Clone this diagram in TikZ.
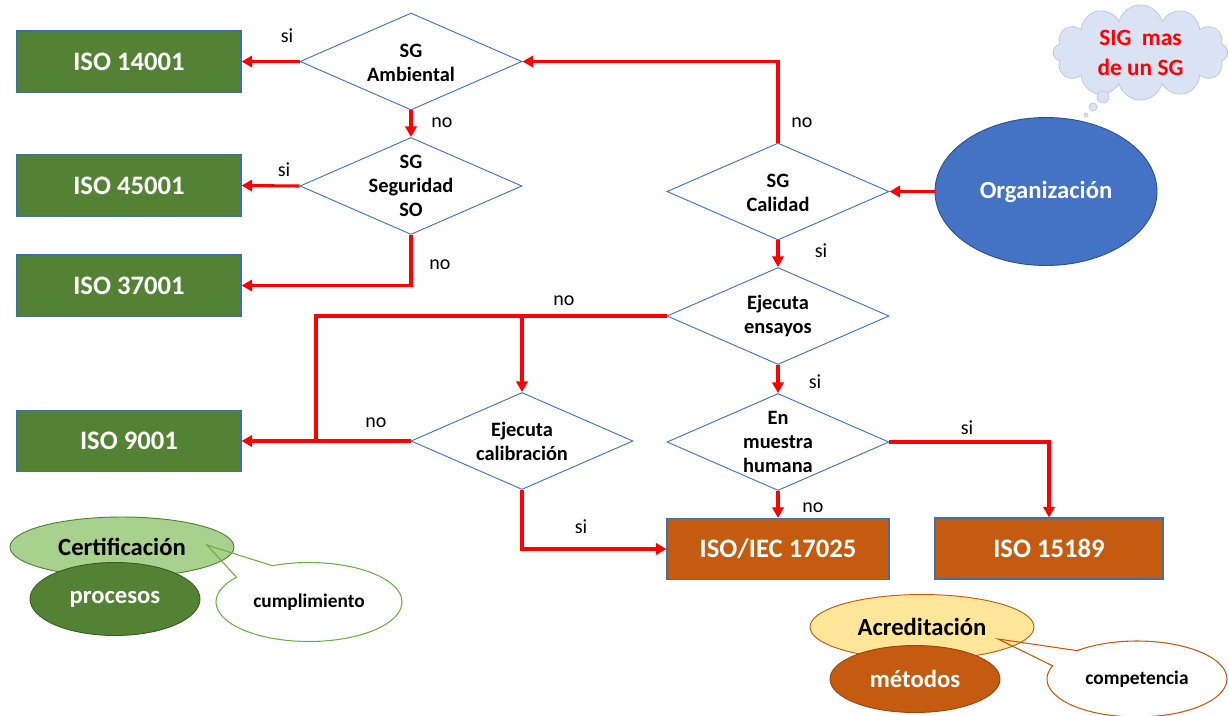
\documentclass[tikz,border=0pt]{standalone}
\usepackage{fontspec}
\setmainfont{Carlito}
\usetikzlibrary{shapes.geometric,shapes.symbols,shapes.callouts,arrows.meta}
\definecolor{isogreen}{HTML}{548235}
\definecolor{isoorange}{HTML}{C55A11}
\definecolor{boxblue}{HTML}{41719C}
\definecolor{dblue}{HTML}{4472C4}
\definecolor{orgblue}{HTML}{4472C4}
\definecolor{orgedge}{HTML}{2F528F}
\definecolor{lgreen}{HTML}{A9D18E}
\definecolor{dgreenedge}{HTML}{3B5E24}
\definecolor{cgreen}{HTML}{70AD47}
\definecolor{lyellow}{HTML}{FFE699}
\definecolor{dorangeedge}{HTML}{9E470D}
\definecolor{cloudblue}{HTML}{DAE3F3}
\definecolor{cloudedge}{HTML}{B4C7E7}
\begin{document}
\begin{tikzpicture}[x=0.75pt,y=-0.75pt,
  isobox/.style={draw=boxblue,line width=0.8pt,minimum height=45.75pt,inner sep=0pt,
    text=white,font=\fontsize{20}{24}\selectfont\bfseries},
  greenbox/.style={isobox,fill=isogreen,minimum width=168pt},
  orangebox/.style={isobox,fill=isoorange},
  decision/.style={diamond,draw=dblue,line width=0.7pt,fill=white,
    minimum width=166.5pt,minimum height=72.75pt,inner sep=0pt},
  dtext/.style={align=center,font=\fontsize{15.3}{18}\selectfont\bfseries,inner sep=0pt},
  flow/.style={draw=red,line width=2.3pt,-{Triangle[length=8pt,width=8.5pt]}},
  flowline/.style={draw=red,line width=2.3pt},
  lbl/.style={font=\fontsize{15}{17}\selectfont,inner sep=0pt},
  bigtext/.style={font=\fontsize{18.5}{22}\selectfont\bfseries},
  smalltext/.style={font=\fontsize{14.5}{17}\selectfont\bfseries},
]
\useasboundingbox (0,0) rectangle (1229,715);

% ISO boxes
\node[greenbox] (i14) at (129,61.5) {ISO 14001};
\node[greenbox] (i45) at (129,185.5) {ISO 45001};
\node[greenbox] (i37) at (129,285.5) {ISO 37001};
\node[greenbox] (i9) at (129,441) {ISO 9001};
\node[orangebox,minimum width=166.5pt] (i17) at (778,549) {ISO/IEC 17025};
\node[orangebox,minimum width=171pt] (i15) at (1049,548.5) {ISO 15189};

% decisions
\node[decision] (amb) at (411,61.5) {};
\node[dtext] (ambt) at ([yshift=-1pt]amb.center) {SG\\Ambiental};
\node[decision] (seg) at (411,186) {};
\node[dtext] (segt) at (seg.center) {SG\\Seguridad\\SO};
\node[decision] (cal) at (778,191.5) {};
\node[dtext] (calt) at ([yshift=-1pt]cal.center) {SG\\Calidad};
\node[decision] (ens) at (778,316) {};
\node[dtext] (enst) at (ens.center) {Ejecuta\\ensayos};
\node[decision] (mue) at (778,442) {};
\node[dtext] (muet) at (mue.center) {En\\muestra\\humana};
\node[decision] (calib) at (522,441) {};
\node[dtext] (calibt) at (calib.center) {Ejecuta\\calibración};

% organization
\node[ellipse,fill=orgblue,draw=orgedge,line width=0.7pt,minimum width=166.5pt,
  minimum height=111pt,text=white,bigtext] (org) at (1046,191.5) {Organización};

% cloud
\node[cloud,cloud puffs=12,aspect=2.6,fill=cloudblue,draw=cloudedge,line width=0.5pt,
  minimum width=131pt,minimum height=52pt,inner sep=0pt,align=center,text=red,
  font=\fontsize{17.5}{22.5}\selectfont\bfseries] (sig) at (1140.5,52.5) {SIG\ \ mas\\de un SG};
\path[draw=cloudedge,fill=cloudblue,line width=0.5pt] (1103,97) circle[radius=6];
\path[draw=cloudedge,fill=cloudblue,line width=0.5pt] (1093,107) circle[radius=4];
\path[draw=cloudedge,fill=cloudblue,line width=0.5pt] (1086,115) circle[radius=2];

% connectors
\draw[flow] (org.west) -- (cal.east);
\draw[flow] (cal.north) |- (amb.east);
\draw[flow] (amb.west) -- (i14.east);
\draw[flow] (amb.south) -- (seg.north);
\draw[flow] (seg.west) -- (i45.east);
\draw[flow] (seg.south) |- (i37.east);
\draw[flow] (cal.south) -- (ens.north);
\draw[flow] (ens.south) -- (mue.north);
\draw[flow] (mue.south) -- (i17.north);
\draw[flow] (mue.east) -| (i15.north);
\coordinate (j1) at (316,316);
\coordinate (j2) at (316,441);
\draw[flowline] (ens.west) -- (j1) -- (j2);
\draw[flow] (calib.north |- ens.west) -- (calib.north);
\draw[flow] (calib.west) -- (i9.east);
\draw[flow] (calib.south) |- (i17.west);

% labels
\node[lbl] (l1) at (287,36) {si};
\node[lbl] (l2) at (284,170) {si};
\node[lbl] (l3) at (442,123) {no};
\node[lbl] (l4) at (440,265) {no};
\node[lbl] (l5) at (802,123) {no};
\node[lbl] (l6) at (821,251) {si};
\node[lbl] (l7) at (564,301) {no};
\node[lbl] (l8) at (815,382) {si};
\node[lbl] (l9) at (967,428) {si};
\node[lbl] (l10) at (813,508) {no};
\node[lbl] (l11) at (376,423) {no};
\node[lbl] (l12) at (581,527) {si};

% certification legend
\node[ellipse,fill=lgreen,draw=isogreen,line width=0.7pt,minimum width=168pt,
  minimum height=45pt,bigtext] (cert) at (122,547) {Certificación};
\node[ellipse,fill=isogreen,draw=dgreenedge,line width=0.7pt,minimum width=127.5pt,
  minimum height=54.75pt,text=white,bigtext] (proc) at (115,599) {procesos};
\node[ellipse callout,draw=cgreen,line width=0.8pt,minimum width=139.5pt,
  minimum height=59.25pt,callout absolute pointer={(207,545)},callout pointer arc=28,
  smalltext] (cump) at (309,602) {cumplimiento};

% accreditation legend
\node[ellipse,fill=lyellow,draw=isoorange,line width=0.7pt,minimum width=168pt,
  minimum height=48.75pt,bigtext] (acre) at (922,627) {Acreditación};
\node[ellipse,fill=isoorange,draw=dorangeedge,line width=0.7pt,minimum width=127.5pt,
  minimum height=50.25pt,text=white,bigtext] (met) at (915,679) {métodos};
\node[ellipse callout,draw=isoorange,line width=0.8pt,minimum width=135pt,
  minimum height=57pt,callout absolute pointer={(998,639)},callout pointer arc=28,
  smalltext] (comp) at (1137,679) {competencia};
\end{tikzpicture}
\end{document}
